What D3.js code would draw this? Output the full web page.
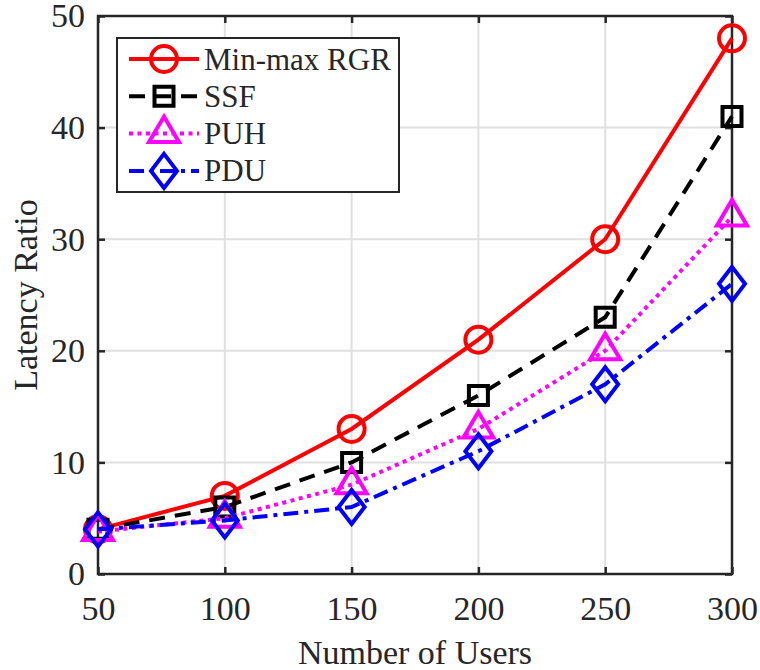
<!DOCTYPE html>
<html>
<head>
<meta charset="utf-8">
<script src="https://cdn.jsdelivr.net/npm/d3@7"></script>
<style>
  html, body { margin: 0; padding: 0; background: #fff; }
  svg { display: block; }
  text { font-family: "Liberation Serif", "Times New Roman", serif; fill: #262626; }
</style>
</head>
<body>
<svg id="chart" width="760" height="670"></svg>
<script>
// Number of users on the x axis
const users = [50, 100, 150, 200, 250, 300];

// Latency ratio for each scheme
const minMaxRGR = [4, 7, 13, 21, 30, 48];
const ssf       = [4, 6, 10, 16, 23, 41];
const puh       = [3.8, 5, 8, 13, 20, 32];
const pdu       = [4, 4.8, 6, 11, 17, 26];

const seriesNames = ["Min-max RGR", "SSF", "PUH", "PDU"];
const xTicks = [50, 100, 150, 200, 250, 300];
const yTicks = [0, 10, 20, 30, 40, 50];

const series = [
  { name: seriesNames[0], values: minMaxRGR, color: "#ff0000", dash: null,        marker: "circle" },
  { name: seriesNames[1], values: ssf,       color: "#000000", dash: "16,10",     marker: "square" },
  { name: seriesNames[2], values: puh,       color: "#ff00ff", dash: "4,4.5",     marker: "triangle" },
  { name: seriesNames[3], values: pdu,       color: "#0000ff", dash: "15,6,4,6",  marker: "diamond" }
];

const svg = d3.select("#chart");
const plotL = 98, plotR = 732, plotT = 16, plotB = 574;

const x = d3.scaleLinear().domain([50, 300]).range([plotL, plotR]);
const y = d3.scaleLinear().domain([0, 50]).range([plotB, plotT]);

const axisColor = "#262626";

// grid
const grid = svg.append("g");
grid.selectAll(".gx").data(xTicks).enter().append("line")
  .attr("x1", d => x(d)).attr("x2", d => x(d))
  .attr("y1", plotT).attr("y2", plotB)
  .attr("stroke", "#e0e0e0").attr("stroke-width", 2);
grid.selectAll(".gy").data(yTicks).enter().append("line")
  .attr("x1", plotL).attr("x2", plotR)
  .attr("y1", d => y(d)).attr("y2", d => y(d))
  .attr("stroke", "#e0e0e0").attr("stroke-width", 2);

// axes with inward ticks on all four sides
const tickLen = 7;
const tickFont = 34;
const legendFont = 31;
const xAxisB = d3.axisBottom(x).tickValues(xTicks).tickSizeInner(-tickLen).tickSizeOuter(0).tickPadding(22);
const xAxisT = d3.axisTop(x).tickValues(xTicks).tickSizeInner(-tickLen).tickSizeOuter(0).tickFormat("");
const yAxisL = d3.axisLeft(y).tickValues(yTicks).tickSizeInner(-tickLen).tickSizeOuter(0).tickPadding(13);
const yAxisR = d3.axisRight(y).tickValues(yTicks).tickSizeInner(-tickLen).tickSizeOuter(0).tickFormat("");

function styleAxis(g) {
  g.select(".domain").remove();
  g.selectAll(".tick line").attr("stroke", axisColor).attr("stroke-width", 2.5);
  g.selectAll(".tick text")
    .attr("font-family", "'Liberation Serif', 'Times New Roman', serif")
    .attr("font-size", tickFont).attr("fill", axisColor);
}

svg.append("g").attr("transform", `translate(0,${plotB})`).call(xAxisB).call(styleAxis);
svg.append("g").attr("transform", `translate(0,${plotT})`).call(xAxisT).call(styleAxis);
svg.append("g").attr("transform", `translate(${plotL},0)`).call(yAxisL).call(styleAxis);
svg.append("g").attr("transform", `translate(${plotR},0)`).call(yAxisR).call(styleAxis);

svg.append("rect")
  .attr("x", plotL).attr("y", plotT)
  .attr("width", plotR - plotL).attr("height", plotB - plotT)
  .attr("fill", "none").attr("stroke", axisColor).attr("stroke-width", 2.5);

// marker shapes
function markerPath(type) {
  switch (type) {
    case "circle":   return d3.symbol(d3.symbolCircle, Math.PI * 13 * 13)();
    case "square":   return "M-9.5,-9.5H9.5V9.5H-9.5Z";
    case "triangle": return "M0,-17L15,8.5L-15,8.5Z";
    case "diamond":  return "M0,-17L13,0L0,17L-13,0Z";
  }
}

const lineGen = d3.line().x(d => x(d[0])).y(d => y(d[1]));

// series lines and markers
series.forEach(s => {
  const pts = users.map((u, i) => [u, s.values[i]]);
  const g = svg.append("g");
  g.append("path")
    .attr("d", lineGen(pts))
    .attr("fill", "none")
    .attr("stroke", s.color)
    .attr("stroke-width", 4)
    .attr("stroke-dasharray", s.dash);
  g.selectAll(".m").data(pts).enter().append("path")
    .attr("d", markerPath(s.marker))
    .attr("transform", d => `translate(${x(d[0])},${y(d[1])})`)
    .attr("fill", "none")
    .attr("stroke", s.color)
    .attr("stroke-width", 4);
});

// axis labels
svg.append("text")
  .attr("x", (plotL + plotR) / 2).attr("y", 664)
  .attr("text-anchor", "middle").attr("font-size", 34)
  .text("Number of Users");

svg.append("text")
  .attr("transform", `translate(37,${(plotT + plotB) / 2}) rotate(-90)`)
  .attr("text-anchor", "middle").attr("font-size", 34)
  .text("Latency Ratio");

// legend
const legend = svg.append("g");
legend.append("rect")
  .attr("x", 117).attr("y", 38).attr("width", 282).attr("height", 154)
  .attr("fill", "#fff").attr("stroke", axisColor).attr("stroke-width", 2);

series.forEach((s, i) => {
  const cy = 59 + i * 37.3;
  legend.append("line")
    .attr("x1", 129).attr("x2", 199).attr("y1", cy).attr("y2", cy)
    .attr("stroke", s.color).attr("stroke-width", 4)
    .attr("stroke-dasharray", s.dash);
  legend.append("path")
    .attr("d", markerPath(s.marker))
    .attr("transform", `translate(164,${cy})`)
    .attr("fill", "none").attr("stroke", s.color).attr("stroke-width", 4);
  legend.append("text")
    .attr("x", 204).attr("y", cy).attr("dy", "0.34em")
    .attr("font-size", legendFont)
    .text(s.name);
});
</script>
</body>
</html>
